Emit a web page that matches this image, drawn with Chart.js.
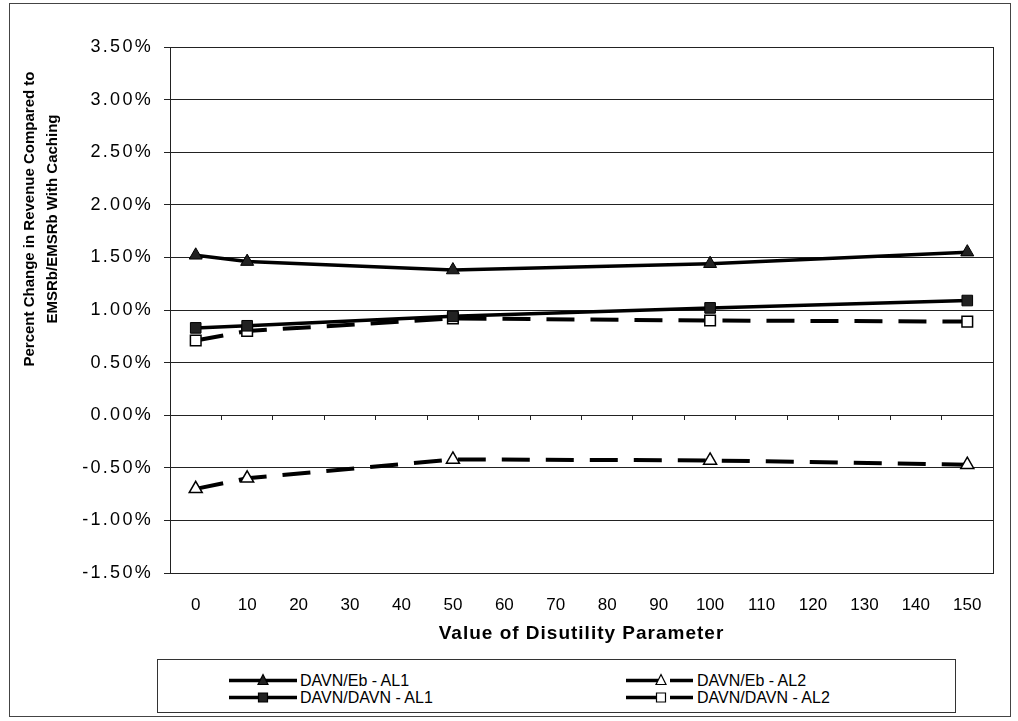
<!DOCTYPE html>
<html>
<head>
<meta charset="utf-8">
<script src="https://cdn.jsdelivr.net/npm/chart.js@4.4.0/dist/chart.umd.min.js"></script>
<style>
body{margin:0;background:#fff;font-family:"Liberation Sans",Arial,sans-serif;}
#frame{position:absolute;left:9px;top:3px;width:1000px;height:712px;border:1px solid #444;}
#wrap{position:absolute;left:0;top:0;width:1018px;height:721px;}
#ytitle{position:absolute;left:40px;top:219px;width:330px;transform:translate(-50%,-50%) rotate(-90deg);
  text-align:center;font-weight:bold;font-size:15px;line-height:23px;color:#000;white-space:nowrap;}
#legend{position:absolute;left:157px;top:659px;width:797px;height:52px;border:1px solid #333;background:#fff;}
.item{position:absolute;height:17px;font-size:16px;line-height:17px;color:#000;white-space:nowrap;}
.item canvas{vertical-align:top;margin-right:0px;}
</style>
</head>
<body>
<div id="frame"></div>
<div id="wrap"><canvas id="chart" width="1018" height="721"></canvas></div>
<div id="ytitle">Percent Change in Revenue Compared to<br>EMSRb/EMSRb With Caching</div>
<div id="legend"></div>
<script>
// x categories and y ticks
let xLabels=['0','10','20','30','40','50','60','70','80','90','100','110','120','130','140','150']
let yMin=-1.5, yMax=3.5, yStep=0.5

// disutility values that were actually run
let disutility=['0','10','50','100','150']

// percent change in revenue
let davnEbAL1=[1.52,1.46,1.38,1.44,1.55]
let davnEbAL2=[-0.70,-0.60,-0.42,-0.43,-0.47]
let davnDavnAL1=[0.83,0.85,0.94,1.02,1.09]
let davnDavnAL2=[0.71,0.80,0.92,0.90,0.89]

let seriesNames=['DAVN/Eb - AL1','DAVN/Eb - AL2','DAVN/DAVN - AL1','DAVN/DAVN - AL2']

function points(values){
  return disutility.map((x,i)=>({x:x,y:values[i]}))
}

let font='"Liberation Sans", Arial, sans-serif'

let series=[
  {name:seriesNames[0],values:davnEbAL1,shape:'triangle',filled:true,dashed:false},
  {name:seriesNames[2],values:davnDavnAL1,shape:'rect',filled:true,dashed:false},
  {name:seriesNames[1],values:davnEbAL2,shape:'triangle',filled:false,dashed:true},
  {name:seriesNames[3],values:davnDavnAL2,shape:'rect',filled:false,dashed:true}
]

let datasets=series.map(s=>({
  label:s.name,
  data:points(s.values),
  xAxisID:'x',
  yAxisID:'y',
  borderColor:'#000',
  borderWidth:s.dashed?4:3.5,
  borderDash:s.dashed?[28,16]:[],
  spanGaps:true,
  tension:0,
  pointStyle:s.shape,
  pointRadius:7.5,
  pointBackgroundColor:s.filled?'#222':'#fff',
  pointBorderColor:'#000',
  pointBorderWidth:s.filled?1:1.5
}))

// wider spaced text for a scale's labels or title
function spaceText(scale,method,spacing){
  if(scale['_spaced_'+method]) return
  let orig=scale[method]
  scale[method]=function(...args){
    this.ctx.save()
    this.ctx.letterSpacing=spacing
    orig.apply(this,args)
    this.ctx.restore()
  }
  scale['_spaced_'+method]=true
}

// box round the plot area
let plotBorder={
  id:'plotBorder',
  afterDraw(chart){
    let a=chart.chartArea, ctx=chart.ctx
    ctx.save()
    ctx.strokeStyle='#222'
    ctx.lineWidth=1
    ctx.strokeRect(Math.round(a.left)+0.5,Math.round(a.top)+0.5,Math.round(a.right-a.left),Math.round(a.bottom-a.top))
    ctx.restore()
  }
}

let ctx=document.getElementById('chart').getContext('2d')

let chart=new Chart(ctx,{
  type:'line',
  data:{labels:xLabels,datasets:datasets},
  plugins:[plotBorder],
  options:{
    responsive:false,
    animation:false,
    layout:{padding:{left:20,top:47,right:25,bottom:76}},
    plugins:{legend:{display:false},tooltip:{enabled:false}},
    scales:{
      x:{
        type:'category',
        position:'bottom',
        offset:true,
        grid:{display:false},
        border:{display:true,color:'#222'},
        ticks:{color:'#000',font:{family:font,size:17},padding:14,maxRotation:0,autoSkip:false},
        title:{display:true,text:'Value of Disutility Parameter',color:'#000',font:{family:font,size:19,weight:'bold'},padding:{top:0,bottom:0}},
        afterFit(scale){
          scale.height=72
          spaceText(scale,'drawTitle','1px')
        }
      },
      // tick marks sitting on the zero line
      xZero:{
        type:'category',
        position:{y:0},
        offset:true,
        grid:{offset:true,drawOnChartArea:false,drawTicks:true,tickLength:5,color:'#222'},
        border:{display:false},
        ticks:{display:false}
      },
      y:{
        min:yMin,
        max:yMax,
        grid:{color:'#222',lineWidth:1,tickLength:6},
        border:{display:true,color:'#222'},
        ticks:{stepSize:yStep,color:'#000',font:{family:font,size:18},padding:11,
          callback:v=>v.toFixed(2)+'%'},
        afterFit(scale){
          scale.width=150
          spaceText(scale,'drawLabels','2.3px')
        }
      }
    }
  }
})

// legend: two columns, line sample with marker then name
function sample(s){
  let c=document.createElement('canvas')
  c.width=72;c.height=17
  let g=c.getContext('2d')
  let y=8.5
  g.strokeStyle='#000'
  g.lineWidth=3.5
  g.beginPath()
  if(s.dashed){
    g.moveTo(1,y);g.lineTo(33,y)
    g.moveTo(45,y);g.lineTo(68,y)
  }else{
    g.moveTo(1,y);g.lineTo(69,y)
  }
  g.stroke()
  g.lineWidth=1.2
  g.fillStyle=s.filled?'#222':'#fff'
  let cx=s.dashed?36:35
  g.beginPath()
  if(s.shape=='triangle'){
    g.moveTo(cx,y-6);g.lineTo(cx+5,y+4);g.lineTo(cx-5,y+4);g.closePath()
  }else{
    g.rect(cx-4.5,y-4.5,9,9)
  }
  g.fill();g.stroke()
  return c
}

let legend=document.getElementById('legend')
let place=[[70,12],[467,12],[70,29],[467,29]]
let order=[series[0],series[2],series[1],series[3]]
order.forEach((s,i)=>{
  let d=document.createElement('div')
  d.className='item'
  d.style.left=place[i][0]+'px'
  d.style.top=place[i][1]+'px'
  d.appendChild(sample(s))
  d.appendChild(document.createTextNode(s.name))
  legend.appendChild(d)
})
</script>
</body>
</html>
